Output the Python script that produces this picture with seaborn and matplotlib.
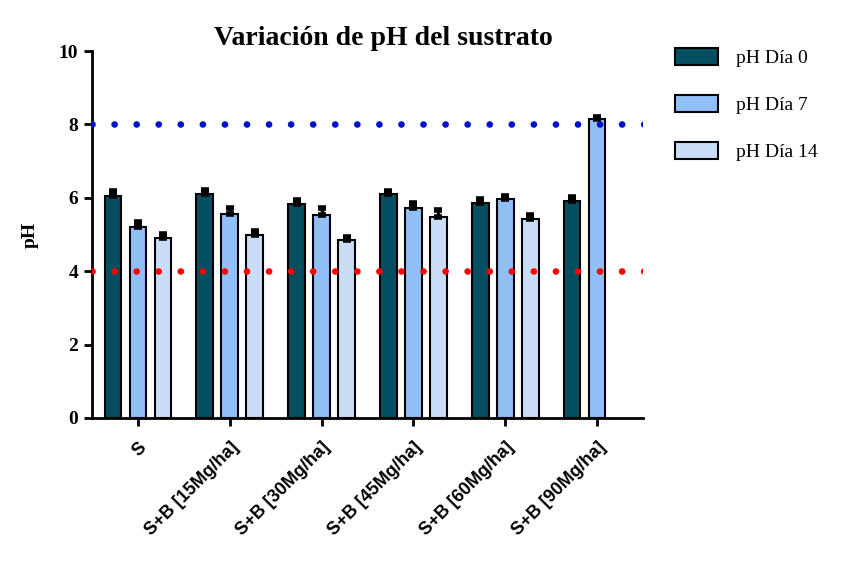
import matplotlib
matplotlib.use("Agg")
import matplotlib.pyplot as plt
import seaborn as sns
import pandas as pd
import numpy as np

categories = ["S", "S+B [15Mg/ha]", "S+B [30Mg/ha]", "S+B [45Mg/ha]", "S+B [60Mg/ha]", "S+B [90Mg/ha]"]
series = ["pH Día 0", "pH Día 7", "pH Día 14"]
ph_dia0 = [6.06, 6.09, 5.83, 6.11, 5.85, 5.92]
ph_dia7 = [5.21, 5.57, 5.54, 5.72, 5.98, 8.14]
ph_dia14 = [4.90, 4.99, 4.84, 5.48, 5.41, np.nan]
err_dia0 = [0.12, 0.12, 0.12, 0.07, 0.11, 0.10]
err_dia7 = [0.14, 0.14, 0.19, 0.13, 0.07, 0.07]
err_dia14 = [0.12, 0.10, 0.10, 0.18, 0.11, np.nan]
ref_high = 8
ref_low = 4
colors = ["#034E61", "#91BFF8", "#C9DDF7"]

sns.set_style("ticks")
plt.rcParams["font.family"] = ["Liberation Serif", "DejaVu Serif"]
plt.rcParams["text.color"] = "black"
plt.rcParams["axes.labelcolor"] = "black"
plt.rcParams["xtick.color"] = "black"
plt.rcParams["ytick.color"] = "black"
plt.rcParams["axes.edgecolor"] = "black"

rows = []
for vals, errs, s in [(ph_dia0, err_dia0, series[0]), (ph_dia7, err_dia7, series[1]), (ph_dia14, err_dia14, series[2])]:
    for c, v, e in zip(categories, vals, errs):
        rows.append({"cat": c, "serie": s, "ph": v, "err": e})
df = pd.DataFrame(rows)

fig = plt.figure(figsize=(8.63, 5.87), dpi=100)
ax = fig.add_axes([92/863, 1-418/587, 551/863, 367/587])

sns.barplot(data=df, x="cat", y="ph", hue="serie", order=categories, hue_order=series,
            palette=colors, saturation=1, width=0.817, gap=0.33, edgecolor="black", linewidth=1.5,
            errorbar=None, ax=ax, legend=True, zorder=3)

# error bars (upper only)
for patch_container, s in zip(ax.containers, series):
    sub = df[df["serie"] == s].set_index("cat").loc[categories]
    for bar, (v, e) in zip(patch_container, zip(sub["ph"], sub["err"])):
        if np.isnan(v):
            continue
        xc = bar.get_x() + bar.get_width() / 2
        ax.errorbar(xc, v, yerr=[[0], [e]], fmt="none", ecolor="black",
                    elinewidth=2.5, capsize=3, capthick=4, zorder=4)

xl = (-0.5, 5.5)
ax.plot([-0.5, 5.6], [ref_high, ref_high], color="#0011CC", lw=4.8, linestyle=(0, (0.01, 3.30)),
        dash_capstyle="round", zorder=5)
ax.plot([-0.5, 5.6], [ref_low, ref_low], color="#FF0000", lw=4.8, linestyle=(0, (0.01, 3.30)),
        dash_capstyle="round", zorder=5)

ax.set_xlim(*xl)
ax.set_ylim(0, 10)
ax.set_yticks([0, 2, 4, 6, 8, 10])
ax.set_yticklabels(["0", "2", "4", "6", "8", "10"], fontsize=14, fontweight="bold")
ax.set_xticks(range(len(categories)))
ax.set_xticklabels(categories, rotation=45, ha="right", rotation_mode="anchor",
                   fontsize=13, fontweight="bold", family=["Liberation Sans", "DejaVu Sans"])
ax.set_xlabel("")
ax.set_ylabel("pH", fontsize=14, fontweight="bold", labelpad=14)
ax.set_title("Variación de pH del sustrato", fontsize=20, fontweight="bold", pad=4, x=0.528)

for sp in ["top", "right"]:
    ax.spines[sp].set_visible(False)
for sp in ["left", "bottom"]:
    ax.spines[sp].set_linewidth(2)
ax.tick_params(axis="both", direction="out", length=6, width=2, pad=4)
ax.tick_params(axis="x", pad=9)

handles, labels = ax.get_legend_handles_labels()
ax.get_legend().remove()
fig.legend(handles, labels, loc="upper left", bbox_to_anchor=(657/863, 1-31/587),
           frameon=False, fontsize=14, handlelength=2.25, handleheight=0.9,
           labelspacing=1.45, handletextpad=0.9)

fig.savefig("out.png", dpi=100)
